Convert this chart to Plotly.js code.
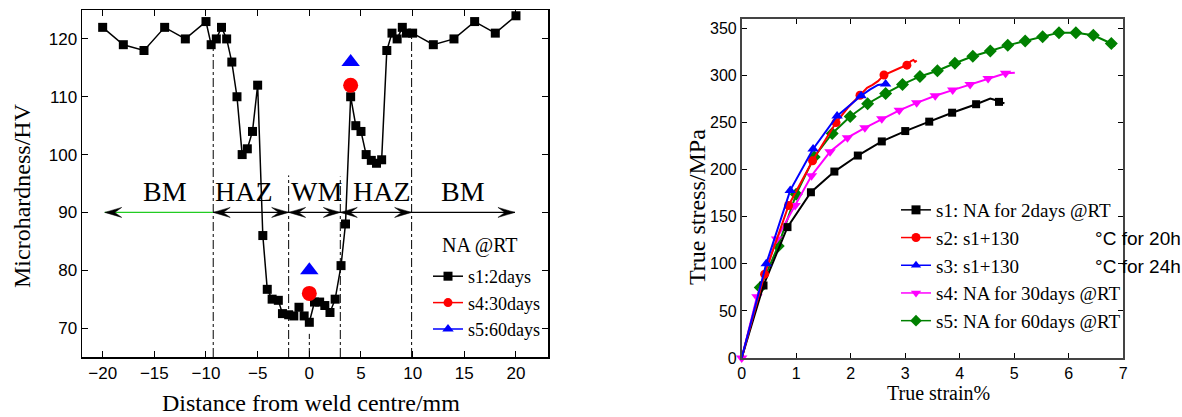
<!DOCTYPE html>
<html><head><meta charset="utf-8">
<script src="https://cdn.plot.ly/plotly-3.0.1.min.js"></script>
<style>html,body{margin:0;padding:0;background:#fff}#chart{width:1182px;height:417px}</style>
</head><body><div id="chart"></div>
<script>
// ---------- Left chart: microhardness profile ----------
const distS1 = [-20,-18,-16,-14,-12,-10,-9.5,-9,-8.5,-8,-7.5,-7,-6.5,-6,-5.5,-5,-4.5,-4.07,-3.6,-3,-2.6,-2,-1.5,-1,-0.5,0,0.5,1,1.5,2,2.5,3.07,3.5,4,4.5,5,5.5,6,6.5,7,7.5,8,8.5,9,9.4,10,12,14,16,18,20];
const hvS1   = [122,119,118,122,120,123,119,120,122,120,116,110,100,101,104,112,86,76.7,75,74.8,72.5,72.3,72.1,73.6,72.1,71,74.5,74.5,73.9,72.7,75,80.8,88,110,105,104,100,99,98.5,99.1,118,121,120,122,121,121,119,120,123,121,124];
const distS4 = [0, 4];
const hvS4   = [76, 112];
const distS5 = [0, 4];
const hvS5   = [80, 116];
const leftXTicks = [-20,-15,-10,-5,0,5,10,15,20];
const leftYTicks = [70,80,90,100,110,120];
const dashX    = [-9.3, -2, 0, 3, 9.9];
const dashTop  = [118.7, 96.4, 69, 96.2, 120.3];
const arrowY = 90;
const arrowSegs = [[-19.8,-9.3],[-9.3,-2],[-2,3],[3,9.9],[9.9,19.9]];
const arrowHeads = [['start'],['start','end'],['start','end'],['start','end'],['end']];
const arrowShaftColors = ['#22cc22','#000','#000','#000','#000'];
const zoneLabels = ['BM','HAZ','WM','HAZ','BM'];
const zoneLabelX = [-14, -6.3, 0.7, 7, 14.9];
const zoneLabelY = 93.6;

// ---------- Right chart: true stress-strain ----------
const s1LineX = [0,0.4,0.84,1.27,1.70,2.13,2.57,3.0,3.44,3.86,4.30,4.56,4.65,4.72,4.82];
const s1LineY = [0,77,139,176,198,215,230,241,251,260.5,269.5,275.5,274,272,270.5];
const s1MarkX = [0.4,0.84,1.27,1.70,2.13,2.57,3.0,3.44,3.86,4.30,4.72];
const s1MarkY = [77,139,176,198,215,230,241,251,260.5,269.5,272];
const s2LineX = [0,0.42,0.86,1.30,1.73,1.95,2.17,2.3,2.4,2.5,2.61,2.7,2.8,2.9,3.03,3.1,3.15,3.18,3.21];
const s2LineY = [0,89,162,209.5,250,266,279,287,290,294,300.5,303,305,308,311,315,316.5,314.5,316];
const s2MarkX = [0.42,0.86,1.30,1.73,2.17,2.61,3.03];
const s2MarkY = [89,162,209.5,250,279,300.5,311];
const s3LineX = [0,0.45,0.89,1.31,1.75,2.19,2.35,2.5,2.64,2.7];
const s3LineY = [0,100,178,222,257,278.5,285,290,291,290];
const s3MarkX = [0.45,0.89,1.31,1.75,2.19,2.64];
const s3MarkY = [100,178,222,257,278.5,291];
const s4LineX = [0,0.28,0.64,0.98,1.28,1.62,1.94,2.26,2.57,2.89,3.21,3.55,3.87,4.19,4.52,4.84,5.01];
const s4LineY = [0,65,126.5,162,193.6,219,234,244.5,254,263,271,278.5,284.5,290.5,296.7,302.4,303];
const s4MarkX = [0,0.28,0.64,0.98,1.28,1.62,1.94,2.26,2.57,2.89,3.21,3.55,3.87,4.19,4.52,4.84];
const s4MarkY = [0,65,126.5,162,193.6,219,234,244.5,254,263,271,278.5,284.5,290.5,296.7,302.4];
const s5LineX = [0,0.34,0.67,1.0,1.33,1.66,1.99,2.31,2.64,2.95,3.27,3.59,3.91,4.24,4.56,4.88,5.20,5.52,5.82,6.13,6.45,6.78,6.85];
const s5LineY = [0,75,119,174,213.5,238.4,256.4,270,281,290.5,299,305,313,320.5,326,332,336.7,341.2,345.5,345.5,342.7,334,331];
const s5MarkX = [0.34,0.67,1.0,1.33,1.66,1.99,2.31,2.64,2.95,3.27,3.59,3.91,4.24,4.56,4.88,5.20,5.52,5.82,6.13,6.45,6.78];
const s5MarkY = [75,119,174,213.5,238.4,256.4,270,281,290.5,299,305,313,320.5,326,332,336.7,341.2,345.5,345.5,342.7,334];
const rightXTicks = [0,1,2,3,4,5,6,7];
const rightYTicks = [0,50,100,150,200,250,300,350];

const NB = '\u00A0';
const degSpan = t => NB.repeat(16) + '<span style="font-family:\'Liberation Sans\',Arial">' + t + '</span>';
const rightNames = ['s1: NA for 2days @RT', 's2: s1+130' + degSpan('°C for 20h'), 's3: s1+130' + degSpan('°C for 24h'), 's4: NA for 30days @RT', 's5: NA for 60days @RT'];
const rightColors = ['#000000', '#ff0000', '#0000ff', '#ff00ff', '#008000'];
const rightSymbols = ['square', 'circle', 'triangle-up', 'triangle-down', 'diamond'];
const rightSizes = [8, 9, 10, 10, 10];

// ---------- geometry helpers (pixels -> paper) ----------
const W = 1182, H = 417;
const PX = x => x / W, PY = y => 1 - y / H;
const SERIF = "'Liberation Serif', 'Times New Roman', serif";
const SANS = "'Liberation Sans', Arial, sans-serif";

const traces = [];
traces.push({x: distS1, y: hvS1, xaxis:'x', yaxis:'y', mode:'lines+markers', name:'s1:2days',
  line:{color:'#000', width:1.5}, marker:{symbol:'square', size:9, color:'#000'}, legend:'legend', cliponaxis:false});
traces.push({x: distS4, y: hvS4, xaxis:'x', yaxis:'y', mode:'markers', showlegend:false,
  marker:{symbol:'circle', size:15, color:'#ff0000'}, cliponaxis:false});
traces.push({x: distS5, y: hvS5, xaxis:'x', yaxis:'y', mode:'markers', showlegend:false,
  marker:{symbol:'triangle-up', size:16, color:'#0000ff'}, cliponaxis:false});
traces.push({x:[null], y:[null], xaxis:'x', yaxis:'y', mode:'lines+markers', name:'s4:30days', legend:'legend',
  line:{color:'#ff0000', width:1.5}, marker:{symbol:'circle', size:9, color:'#ff0000'}});
traces.push({x:[null], y:[null], xaxis:'x', yaxis:'y', mode:'lines+markers', name:'s5:60days', legend:'legend',
  line:{color:'#0000ff', width:1.5}, marker:{symbol:'triangle-up', size:10, color:'#0000ff'}});

const rLines = [[s1LineX,s1LineY],[s2LineX,s2LineY],[s3LineX,s3LineY],[s4LineX,s4LineY],[s5LineX,s5LineY]];
const rMarks = [[s1MarkX,s1MarkY],[s2MarkX,s2MarkY],[s3MarkX,s3MarkY],[s4MarkX,s4MarkY],[s5MarkX,s5MarkY]];
const order = [4,3,0,1,2];
order.forEach(i => {
  traces.push({x: rLines[i][0], y: rLines[i][1], xaxis:'x2', yaxis:'y2', mode:'lines', showlegend:false,
    line:{color: rightColors[i], width:2}, cliponaxis:false});
  traces.push({x: rMarks[i][0], y: rMarks[i][1], xaxis:'x2', yaxis:'y2', mode:'markers', showlegend:false,
    marker:{symbol: rightSymbols[i], size: rightSizes[i], color: rightColors[i]}, cliponaxis:false});
});
for (let i = 0; i < 5; i++) {
  traces.push({x:[null], y:[null], xaxis:'x2', yaxis:'y2', mode:'lines+markers', name: rightNames[i], legend:'legend2',
    line:{color: rightColors[i], width:1.5}, marker:{symbol: rightSymbols[i], size: 9, color: rightColors[i]}});
}

// ---------- shapes ----------
const shapes = [];
dashX.forEach((x, i) => shapes.push({type:'line', xref:'x', yref:'y', x0:x, x1:x, y0:65, y1:dashTop[i],
  line:{color:'#000', width:1, dash:'dashdot'}}));
const LX = [-22, 23.1], LY = [65, 125];
const uxPerPx = (LX[1]-LX[0]) / 466, uyPerPx = (LY[1]-LY[0]) / 347;
const headLen = 17 * uxPerPx, headHalf = 5 * uyPerPx, notch = 10 * uxPerPx;
arrowSegs.forEach((seg, i) => {
  shapes.push({type:'line', xref:'x', yref:'y', x0:seg[0], x1:seg[1], y0:arrowY, y1:arrowY, line:{color: arrowShaftColors[i], width:1.2}});
  arrowHeads[i].forEach(side => {
    const tip = side === 'start' ? seg[0] : seg[1];
    const d = side === 'start' ? 1 : -1;
    const path = `M${tip},${arrowY} L${tip + d*headLen},${arrowY + headHalf} L${tip + d*notch},${arrowY} L${tip + d*headLen},${arrowY - headHalf} Z`;
    shapes.push({type:'path', xref:'x', yref:'y', path: path, fillcolor:'#000', line:{color:'#000', width:0.5}});
  });
});

// ---------- annotations ----------
const annotations = [];
const ann = (o) => annotations.push(Object.assign({showarrow:false, xanchor:'center', yanchor:'middle'}, o));
zoneLabels.forEach((t, i) => ann({xref:'x', yref:'y', x: zoneLabelX[i], y: zoneLabelY, text: t,
  font:{family:SERIF, size:28, color:'#000'}}));
ann({xref:'paper', yref:'paper', x: PX(480), y: PY(245), text:'NA @RT', font:{family:SERIF, size:20, color:'#000'}});
ann({xref:'paper', yref:'paper', x: PX(311), y: PY(403), text:'Distance from weld centre/mm', font:{family:SERIF, size:24, color:'#000'}});
ann({xref:'paper', yref:'paper', x: PX(22), y: PY(196), text:'Microhardness/HV', textangle:-90, font:{family:SERIF, size:24, color:'#000'}});
ann({xref:'paper', yref:'paper', x: PX(938), y: PY(393), text:'True strain%', font:{family:SERIF, size:20, color:'#000'}});
ann({xref:'paper', yref:'paper', x: PX(697), y: PY(207), text:'True stress/MPa', textangle:-90, font:{family:SERIF, size:24, color:'#000'}});

const axBase = {showgrid:false, zeroline:false, ticks:'inside', mirror:'ticks', showline:true,
  tickfont:{family:SANS, size:17, color:'#000'}, tickcolor:'#000', ticklen:6};

const layout = {
  width: W, height: H, margin:{l:0, r:0, t:0, b:0, autoexpand:false}, paper_bgcolor:'#fff', plot_bgcolor:'rgba(0,0,0,0)',
  showlegend:true,
  xaxis: Object.assign({}, axBase, {domain:[PX(82), PX(548)], range: LX, tickvals: leftXTicks, linecolor:'#000', linewidth:1.5, anchor:'y'}),
  yaxis: Object.assign({}, axBase, {domain:[PY(357), PY(10)], range: LY, tickvals: leftYTicks, linecolor:'#000', linewidth:1.5, anchor:'x'}),
  xaxis2: Object.assign({}, axBase, {domain:[PX(741.7), PX(1123.3)], range:[0,7], tickvals: rightXTicks, linecolor:'#444', linewidth:1.8, anchor:'y2', ticklen:5, tickfont:{family:SANS, size:16, color:'#000'}}),
  yaxis2: Object.assign({}, axBase, {domain:[PY(358), PY(19)], range:[0,360], tickvals: rightYTicks, linecolor:'#444', linewidth:1.8, anchor:'x2', ticklen:5, tickfont:{family:SANS, size:16, color:'#000'}}),
  legend: {x: PX(428), y: PY(258), xanchor:'left', yanchor:'top', bgcolor:'rgba(0,0,0,0)', borderwidth:0,
    font:{family:SERIF, size:18, color:'#000'}, tracegroupgap:0, itemwidth:30},
  legend2: {x: PX(896), y: PY(191), xanchor:'left', yanchor:'top', bgcolor:'rgba(0,0,0,0)', borderwidth:0,
    font:{family:SERIF, size:19, color:'#000'}, tracegroupgap:0, itemwidth:30},
  shapes: shapes,
  annotations: annotations
};

Plotly.newPlot('chart', traces, layout, {displayModeBar:false, staticPlot:true});
</script>
</body></html>
